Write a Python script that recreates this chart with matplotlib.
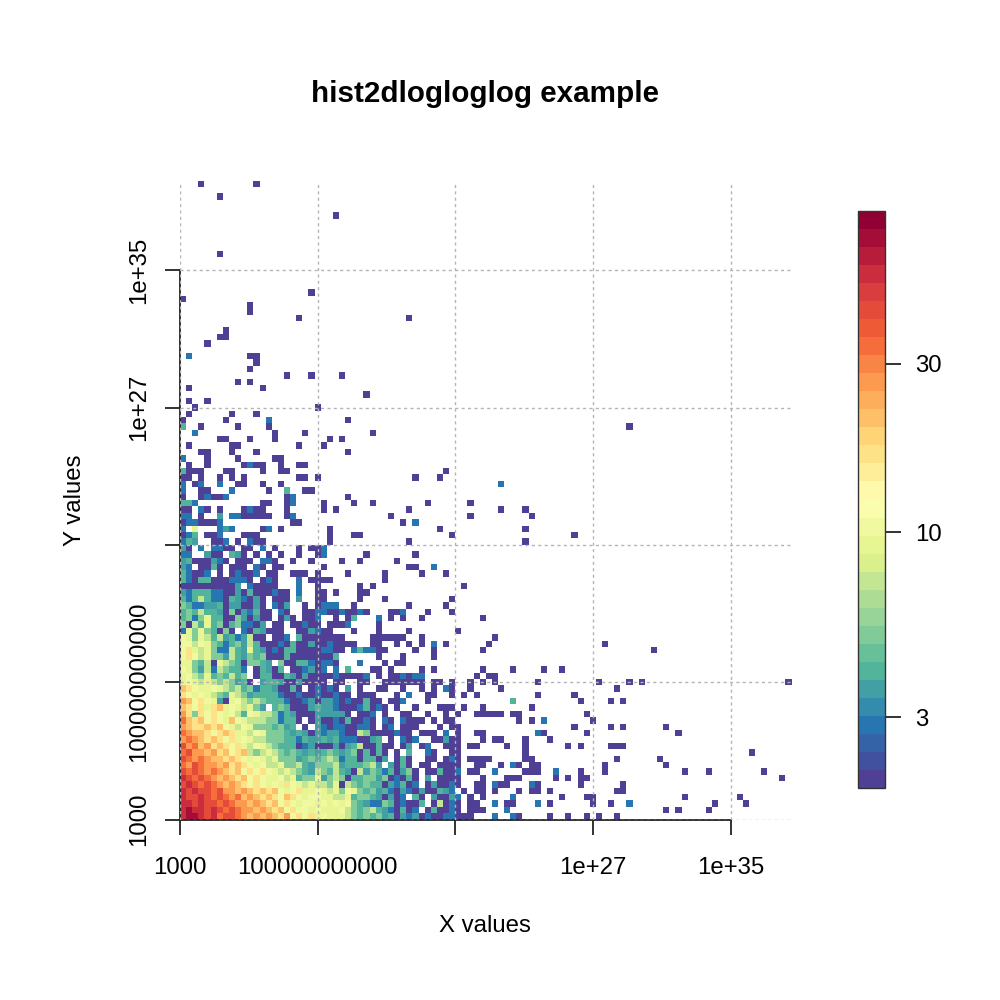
import numpy as np
import matplotlib
matplotlib.use('Agg')
import matplotlib.pyplot as plt
from matplotlib.colors import LogNorm, ListedColormap
from matplotlib.cm import ScalarMappable

plt.rcParams['font.family'] = ['Liberation Sans', 'DejaVu Sans']

# ---------------- data ----------------
title = 'hist2dlogloglog example'
x_label = 'X values'
y_label = 'Y values'
x_log_range = (3.0, 38.52)     # log10 of min / max of x data
y_log_range = (3.0, 40.24)     # log10 of min / max of y data
n_bins = 100
tick_values = [1e3, 1e11, 1e19, 1e27, 1e35]
x_tick_labels = ['1000', '100000000000', '', '1e+27', '1e+35']
y_tick_labels = ['1000', '100000000000', '', '1e+27', '1e+35']
count_range = (1.89, 81.0)
colorbar_ticks = [3, 10, 30]
colorbar_tick_labels = ['3', '10', '30']
n_colors = 32

# cell codes -> counts
level_counts = {'1': 1.0, '3': 2.7, '4': 3.6, '5': 4.1, '6': 5.3, '7': 7.3,
                '8': 8.7, '9': 10.8, 'a': 16.6, 'b': 21.0, 'c': 26.6,
                'd': 33.6, 'e': 42.5, 'f': 52.0, 'g': 72.0}

# rows 0..50 (bottom to top), columns 0..52
dense_rows = [
    "fggfe fdeed cbcbc bac9a 9a898 88765 65645 14341 31133 111.. .3.",
    "fgffe feded ccbcb ab9a9 98988 89765 67543 1513. 15113 1.111 ...",
    "ffefe ededc cbcba b9a98 99898 98965 43365 13115 .1713 1.11. .3.",
    "feefe dedcd bcbab a9ba9 89988 77856 65414 13.51 .4114 3.1.1 ...",
    "fefee deccb cbaba b989a 88987 86986 56453 14314 11543 .1.11 .1.",
    "efede dcbcb a9a98 98a98 78776 81765 65514 3513. 14113 1..11 .31",
    "feded cbcba b9a98 89785 66846 76155 66461 3151. 4.111 1...1 ...",
    "ededc dcbab 9a9a9 87876 54765 75417 46535 1461. 11511 3.11. .3.",
    "dcedc cbcab a9897 78667 54666 74555 674.4 151.1 1.111 1..11 ..1",
    "edcdc bbaba 98987 86664 56567 63551 5514. 151.. 11.13 1.111 1..",
    "deccb cab9a b7678 76565 45456 54561 5151. 1.5.. 31..1 1.... ...",
    "ecdbc aba9a 87987 65551 34111 41457 11511 .14.1 3..11 1.11. ...",
    "cdcba ba9a8 98776 66553 54454 53331 145.1 .313. .1141 1...1 .11",
    "dcbba 9aba8 87986 66545 41434 43117 61111 311.1 11.3. 1..11 ...",
    "cbaab ab987 98666 5645. 1.431 33113 31.13 .111. ..1.1 1.... ...",
    "dbab9 a98b9 87776 63551 .1411 31511 31.31 .3111 .1.11 ..... ...",
    "ca6a9 a9897 59877 63541 11444 441.1 13.1. .11.. 1..1. 1..11 111",
    "ba9a8 ab898 7864. 56511 14544 31113 5131. 1..1. ..111 .1..1 ...",
    "cb9a9 84189 76765 55311 34144 31311 511.1 13... 1.... ..... ...",
    "a9898 76587 64555 53113 11311 311.1 11... 1.3.. 11..1 .1.1. ...",
    "ba988 98767 56355 41151 .1313 1.4.1 ..11. .1..1 .1.31 ..1.. ..1",
    "89878 76764 51.45 54114 1111. 11..1 1..11 11111 .11.1 ..1.1 .1.",
    "89768 56575 6.155 11541 41111 31111 3.1.1 13133 ..... ...1. 11.",
    "98647 37655 3.154 15.11 3413. 3.5.. .11.1 ....1 .1... ....1 ...",
    "88657 18765 16654 .6115 53133 1...3 ...1. 11... ..... ..... ...",
    "9a978 66475 46561 11511 11111 5.... ..1.. .1... .1... ..... ...",
    "9a878 63375 48541 31551 11133 11.35 3311. ...1. .1... ....1 ...",
    "99798 65356 47511 13151 14113 1111. .11.. 1.1.1 .3.1. ..... 1..",
    "98687 57453 4711. 113.5 11111 11... .1111 11..1 ..... ..... .1.",
    "38686 5161. 31541 11..1 14311 ...1. ..1.. ..1.. ..... 1.... ...",
    "61758 56156 3314. 11.11 311.1 113.. ..1.. ..... ..... ..... ...",
    "56368 55116 41411 .141. 113.. 1.15. ..3.1 .1..1 ..... ....1 ...",
    "56575 54161 43511 .31.. 11331 13113 1...1 13... 1...1 ..... ...",
    "65334 45144 1141. 314.. 1.133 3..1. ..... ..1.. ...1. ..... ...",
    "53575 33154 3141. 111.4 ..11. ....1 ...1. ..... ....1 ..... ...",
    "43555 33114 15111 311.3 ..11. 1...1 1.... ..... ..... ..... ...",
    "11111 11114 .3111 1...3 ..1.. ....1 .1... ..... ..... .1... ...",
    "53155 11133 31.13 1...3 .1111 ..... ...1. ..... ..... ..... ...",
    "53113 .1.13 113.1 1..11 1.1.. ..1.. ...1. ....1 ...1. ..... ...",
    "43.11 51.11 1.31. 11... ...1. ..... ..... ..11. .3... ..... ...",
    "45111 431.1 11.33 1..1. .1... .1..1 ..... 1.... ..... ..... ...",
    "33..4 11.54 1.1.1 .1..1 ..13. ..... 1.... ...1. ..... ..... ...",
    "41.3. 3311. 11.3. 1...1 .113. ..... ..... ..... ..... ..... ...",
    "354.. 113.1 .311. ..... ....1 ..... ..... ..1.. ..... ..... ...",
    "135.1 13... 111.. ..... ....1 ...11 ..... ..... ....1 ..... ...",
    "3.8.. .343. ...13 .1... ....1 ..... ..... ..... ..1.. ..... ...",
    "13311 13... ..... ...11 ..... ..... ..... .1.3. ..... ..... ...",
    "33.1. .4.33 11111 ..13. ..... ..... ....1 ..... ..... ..1.. ...",
    "11.31 .1... 1311. ..1.. ...1. 1.... ..... ..1.. ..... ..... ..1",
    "553.. ..... ...11 ..13. ...1. ...1. .1... ..... 1.... ..1.. ...",
    "1..13 113.. ..... ..13. ..... ..1.. ..... ..... ..... ..... ...",
]

# remaining occupied cells: (row, column, code)
sparse_cells = [
    (0, 54, '3'), (0, 55, '1'), (0, 60, '1'), (0, 63, '1'), (0, 66, '1'), (0, 68, '1'), (0, 71, '1'),
    (1, 53, '3'), (1, 79, '1'), (1, 81, '1'), (1, 86, '1'),
    (2, 53, '1'), (2, 54, '1'), (2, 58, '3'), (2, 60, '1'), (2, 67, '1'), (2, 70, '1'), (2, 73, '3'),
    (2, 87, '1'), (2, 92, '1'),
    (3, 54, '3'), (3, 62, '1'), (3, 66, '1'), (3, 67, '1'), (3, 82, '1'), (3, 91, '1'),
    (4, 55, '1'), (4, 57, '1'), (4, 58, '1'), (4, 60, '1'), (4, 71, '1'), (4, 72, '1'),
    (5, 53, '1'), (5, 57, '3'), (5, 58, '1'), (5, 65, '1'), (5, 72, '1'),
    (6, 53, '1'), (6, 54, '1'), (6, 55, '1'), (6, 61, '1'), (6, 63, '1'), (6, 65, '1'), (6, 66, '1'),
    (6, 98, '1'),
    (7, 56, '1'), (7, 57, '1'), (7, 58, '1'), (7, 61, '3'), (7, 65, '1'), (7, 69, '1'), (7, 82, '1'),
    (7, 86, '1'), (7, 95, '1'),
    (8, 54, '3'), (8, 55, '1'), (8, 57, '1'), (8, 58, '1'), (8, 69, '1'), (8, 79, '1'),
    (9, 56, '1'), (9, 57, '1'), (9, 71, '1'), (9, 78, '1'),
    (10, 56, '1'), (10, 93, '1'),
    (11, 53, '1'), (11, 56, '1'), (11, 63, '1'), (11, 65, '1'), (11, 70, '1'), (11, 71, '1'), (11, 72, '1'),
    (12, 56, '1'), (12, 60, '1'),
    (13, 58, '3'), (13, 59, '1'), (13, 66, '1'), (13, 81, '1'),
    (14, 64, '1'), (14, 70, '1'), (14, 72, '1'), (14, 79, '1'),
    (15, 55, '1'), (15, 57, '1'), (15, 59, '3'), (15, 67, '1'),
    (16, 54, '1'), (16, 55, '1'), (16, 66, '1'),
    (17, 57, '1'),
    (18, 54, '5'), (18, 65, '1'), (18, 70, '1'), (18, 72, '1'),
    (19, 58, '1'), (19, 64, '1'),
    (20, 71, '1'),
    (21, 58, '1'), (21, 68, '1'), (21, 73, '1'), (21, 75, '1'), (21, 99, '1'),
    (23, 54, '1'), (23, 59, '1'), (23, 62, '1'),
    (26, 77, '1'), (27, 69, '1'),
    (43, 56, '1'), (44, 64, '1'), (45, 56, '1'), (47, 57, '1'), (48, 56, '1'),
    (51, 0, '3'), (51, 3, '1'), (51, 4, '1'), (51, 8, '3'), (51, 14, '1'), (51, 17, '5'), (51, 20, '1'),
    (51, 21, '1'),
    (52, 0, '3'), (52, 2, '1'), (52, 3, '3'), (52, 6, '3'), (52, 9, '1'), (52, 10, '1'), (52, 13, '1'),
    (52, 16, '1'), (52, 52, '3'),
    (53, 0, '1'), (53, 1, '1'), (53, 3, '1'), (53, 6, '1'), (53, 8, '1'), (53, 10, '1'), (53, 19, '1'),
    (53, 20, '1'), (53, 22, '1'), (53, 38, '1'), (53, 42, '1'),
    (54, 0, '5'), (54, 1, '1'), (54, 2, '1'), (54, 3, '1'), (54, 7, '1'), (54, 8, '1'), (54, 13, '1'),
    (54, 16, '1'), (54, 17, '1'), (54, 43, '1'),
    (55, 1, '1'), (55, 4, '1'), (55, 10, '1'), (55, 11, '3'), (55, 12, '1'), (55, 13, '1'), (55, 16, '1'),
    (55, 19, '1'), (55, 20, '1'),
    (56, 0, '3'), (56, 4, '1'), (56, 9, '1'), (56, 15, '1'), (56, 16, '1'),
    (57, 3, '1'), (57, 4, '1'), (57, 8, '1'), (57, 12, '1'), (57, 27, '1'),
    (58, 1, '1'), (58, 8, '1'), (58, 9, '1'), (58, 19, '1'), (58, 23, '1'),
    (59, 6, '1'), (59, 7, '1'), (59, 11, '1'), (59, 15, '1'), (59, 24, '1'), (59, 26, '1'),
    (60, 2, '3'), (60, 15, '1'), (60, 20, '1'), (60, 31, '1'),
    (61, 0, '5'), (61, 3, '1'), (61, 9, '1'), (61, 14, '1'), (61, 73, '1'),
    (62, 0, '1'), (62, 7, '1'), (62, 14, '3'), (62, 27, '1'),
    (63, 1, '1'), (63, 8, '1'), (63, 12, '1'),
    (64, 2, '1'), (64, 22, '1'),
    (65, 1, '1'), (65, 4, '1'),
    (66, 30, '1'),
    (67, 1, '1'), (67, 13, '1'),
    (68, 9, '1'), (68, 11, '1'),
    (69, 17, '1'), (69, 21, '1'), (69, 26, '1'),
    (70, 11, '1'), (71, 12, '1'),
    (72, 1, '3'), (72, 11, '1'), (72, 12, '1'),
    (74, 4, '1'), (75, 6, '1'), (75, 7, '1'), (76, 7, '1'),
    (78, 19, '1'), (78, 37, '1'), (79, 11, '1'), (80, 11, '1'), (81, 0, '1'), (82, 21, '1'),
    (88, 6, '1'), (94, 25, '1'), (97, 6, '1'), (99, 3, '1'), (99, 12, '1'),
]

# ---------------- build the count matrix ----------------
counts = np.full((n_bins, n_bins), np.nan)
for r, row in enumerate(dense_rows):
    for c, ch in enumerate(row.replace(' ', '')):
        if ch != '.':
            counts[r, c] = level_counts[ch]
for r, c, ch in sparse_cells:
    counts[r, c] = level_counts[ch]

x_edges = np.logspace(x_log_range[0], x_log_range[1], n_bins + 1)
y_edges = np.logspace(y_log_range[0], y_log_range[1], n_bins + 1)

colors = plt.get_cmap('Spectral_r')(np.linspace(0, 1, n_colors))
colors[:, :3] = colors[:, :3] ** 1.18       # match the darker rendering of the reference
cmap = ListedColormap(colors)
cmap.set_under(colors[0])
cmap.set_over(colors[-1])
cmap.set_bad((1, 1, 1, 0))
norm = LogNorm(vmin=count_range[0], vmax=count_range[1])

# ---------------- figure ----------------
fig = plt.figure(figsize=(10, 10), dpi=100)
ax = fig.add_axes([0.18, 0.1805, 0.6116, 0.639])
ax.pcolormesh(x_edges, y_edges, np.ma.masked_invalid(counts), cmap=cmap, norm=norm,
              shading='flat', zorder=1)
ax.set_xscale('log')
ax.set_yscale('log')
ax.set_xlim(x_edges[0], x_edges[-1])
ax.set_ylim(y_edges[0], y_edges[-1])

ax.set_xticks(tick_values)
ax.set_xticklabels(x_tick_labels)
ax.set_yticks(tick_values)
ax.set_yticklabels(y_tick_labels, rotation=90, va='center')
ax.minorticks_off()
ax.tick_params(axis='both', which='major', direction='out', length=10.6, width=1.3,
               labelsize=17.3, color='#222222')
ax.tick_params(axis='x', pad=16.6)
ax.tick_params(axis='y', pad=11.2)

ax.grid(True, which='major', color='#b4b4b4', linestyle=(0, (2.2, 2.4)), linewidth=1.0)
ax.set_axisbelow(False)
for side in ['top', 'right']:
    ax.spines[side].set_visible(False)
for side in ['left', 'bottom']:
    ax.spines[side].set_linewidth(1.3)
    ax.spines[side].set_color('#222222')
    ax.spines[side].set_bounds(tick_values[0], tick_values[-1])

fig.text(0.485, 1 - 0.1017, title, ha='center', va='baseline', fontsize=21.3, fontweight='bold')
fig.text(0.485, 1 - 0.926, x_label, ha='center', va='center', fontsize=17.3)
fig.text(0.075, 0.5, y_label, ha='center', va='center', fontsize=17.3, rotation=90)

# ---------------- colour key ----------------
cax = fig.add_axes([0.858, 0.212, 0.027, 0.577])
sm = ScalarMappable(norm=norm, cmap=cmap)
cb = fig.colorbar(sm, cax=cax)
cb.set_ticks(colorbar_ticks)
cb.set_ticklabels(colorbar_tick_labels)
cb.minorticks_off()
cb.outline.set_linewidth(1.0)
cb.outline.set_edgecolor('#333333')
cax.tick_params(length=11.3, width=1.3, labelsize=17.3, pad=10.5, color='#222222')

fig.savefig('out.png', dpi=100)
